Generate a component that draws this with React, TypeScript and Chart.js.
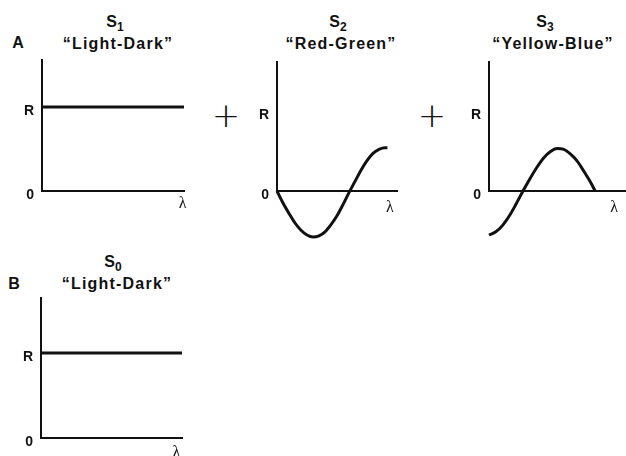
import React, { useEffect, useRef } from "react";
import { Chart, registerables } from "chart.js";

Chart.register(...registerables);

// Wavelength runs over a normalised 0–100 range; responses are in units of R.
const flatWavelengths = [0, 100];
const lightDarkS1 = [1, 1];
const lightDarkS0 = [1, 1];

const redGreenWavelengths = [0, 5, 10, 15, 20, 25, 30, 35, 40, 45, 50, 55, 60, 65, 70, 75, 80, 85, 90, 92];
const redGreenS2 = [0, -0.15, -0.28, -0.4, -0.49, -0.55, -0.575, -0.56, -0.51, -0.42, -0.31, -0.17, -0.02, 0.12, 0.26, 0.38, 0.47, 0.52, 0.54, 0.54];

const yellowBlueWavelengths = [0, 5, 10, 15, 20, 25, 30, 35, 40, 45, 50, 55, 60, 65, 70, 75, 78];
const yellowBlueS3 = [-0.55, -0.51, -0.43, -0.31, -0.16, 0, 0.15, 0.29, 0.41, 0.49, 0.53, 0.52, 0.46, 0.37, 0.24, 0.1, 0];

const yTickValues = [0, 1];
const yTickLabels = ["0", "R"];
const xTickLabel = "λ";

const INK = "#111";
const FONT = "'Liberation Sans', Arial, Helvetica, sans-serif";
const LAMBDA_FONT = "'Liberation Serif', 'Times New Roman', serif";

type PanelSpec = {
  id: string;
  left: number;
  top: number;
  width: number;
  height: number;
  padTop: number;
  padRight: number;
  yAxisWidth: number;
  xAxisHeight: number;
  yMax: number;
  lambdaAt: number;
  lambdaPad: number;
  xs: number[];
  ys: number[];
  lineWidth: number;
};

const panels: PanelSpec[] = [
  { id: "s1", left: 6, top: 54, width: 190, height: 161, padTop: 6, padRight: 12, yAxisWidth: 36, xAxisHeight: 24, yMax: 1.56, lambdaAt: 99, lambdaPad: 3, xs: flatWavelengths, ys: lightDarkS1, lineWidth: 3 },
  { id: "s2", left: 241, top: 56, width: 168, height: 191, padTop: 6, padRight: 12, yAxisWidth: 36, xAxisHeight: 56, yMax: 1.6125, lambdaAt: 94, lambdaPad: 7, xs: redGreenWavelengths, ys: redGreenS2, lineWidth: 3 },
  { id: "s3", left: 453, top: 56, width: 173, height: 191, padTop: 6, padRight: 1, yAxisWidth: 36, xAxisHeight: 56, yMax: 1.6125, lambdaAt: 92, lambdaPad: 7, xs: yellowBlueWavelengths, ys: yellowBlueS3, lineWidth: 3 },
  { id: "s0", left: 5, top: 292, width: 189, height: 168, padTop: 6, padRight: 12, yAxisWidth: 36, xAxisHeight: 22, yMax: 1.647, lambdaAt: 96, lambdaPad: 5, xs: flatWavelengths, ys: lightDarkS0, lineWidth: 3 },
];

function makeChart(canvas: HTMLCanvasElement, p: PanelSpec) {
  return new Chart(canvas, {
    type: "line",
    data: {
      datasets: [
        {
          data: p.xs.map((x, i) => ({ x, y: p.ys[i] })),
          borderColor: INK,
          borderWidth: p.lineWidth,
          pointRadius: 0,
          fill: false,
          cubicInterpolationMode: "monotone",
          clip: false,
        },
      ],
    },
    options: {
      animation: false,
      responsive: false,
      maintainAspectRatio: false,
      events: [],
      layout: { padding: { top: p.padTop, right: p.padRight, left: 0, bottom: 0 } },
      plugins: {
        legend: { display: false },
        tooltip: { enabled: false },
        title: { display: false },
      },
      scales: {
        x: {
          type: "linear",
          min: 0,
          max: 100,
          grid: { display: false, drawTicks: false },
          border: { display: true, color: INK, width: 2 },
          ticks: {
            padding: p.lambdaPad,
            color: INK,
            font: { family: LAMBDA_FONT, size: 16 },
            autoSkip: false,
            maxRotation: 0,
            minRotation: 0,
            callback: () => xTickLabel,
          },
          afterBuildTicks: (s: any) => {
            s.ticks = [{ value: p.lambdaAt }];
          },
          afterFit: (s: any) => {
            s.height = p.xAxisHeight;
            s.paddingLeft = 0;
            s.paddingRight = 0;
          },
        },
        y: {
          type: "linear",
          min: 0,
          max: p.yMax,
          grid: { display: false, drawTicks: false },
          border: { display: true, color: INK, width: 2 },
          ticks: {
            padding: 8,
            labelOffset: 4,
            color: INK,
            font: { family: FONT, size: 14, weight: "bold" },
            autoSkip: false,
            callback: (_v: any, i: number) => yTickLabels[i] ?? "",
          },
          afterBuildTicks: (s: any) => {
            s.ticks = yTickValues.map((value) => ({ value }));
          },
          afterFit: (s: any) => {
            s.width = p.yAxisWidth;
            s.paddingTop = 0;
            s.paddingBottom = 0;
          },
        },
      },
    } as any,
  });
}

const titleStyle: React.CSSProperties = {
  position: "absolute",
  transform: "translate(-50%, -50%)",
  fontFamily: FONT,
  fontWeight: "bold",
  fontSize: 16,
  lineHeight: 1,
  whiteSpace: "nowrap",
  color: INK,
};

function Label({ x, y, children, style }: { x: number; y: number; children: React.ReactNode; style?: React.CSSProperties }) {
  return <div style={{ ...titleStyle, left: x, top: y, ...style }}>{children}</div>;
}

function Signal({ x, y, sub }: { x: number; y: number; sub: string }) {
  return (
    <Label x={x} y={y}>
      S<span style={{ fontSize: 12, position: "relative", top: 4 }}>{sub}</span>
    </Label>
  );
}

function Quoted({ x, y, text }: { x: number; y: number; text: string }) {
  return (
    <Label x={x} y={y} style={{ letterSpacing: 1.2 }}>
      {"\u201C" + text + "\u201D"}
    </Label>
  );
}

function Plus({ x, y }: { x: number; y: number }) {
  return (
    <Label x={x} y={y} style={{ fontFamily: "'DejaVu Sans'", fontWeight: 200, fontSize: 34 }}>
      +
    </Label>
  );
}

export default function App() {
  const refs = useRef<(HTMLCanvasElement | null)[]>([]);

  useEffect(() => {
    const charts = panels.map((p, i) => makeChart(refs.current[i] as HTMLCanvasElement, p));
    return () => charts.forEach((c) => c.destroy());
  }, []);

  return (
    <div
      style={{
        position: "absolute",
        left: 0,
        top: 0,
        width: 626,
        height: 456,
        overflow: "hidden",
        background: "#fff",
      }}
    >
      {panels.map((p, i) => (
        <canvas
          key={p.id}
          ref={(el) => {
            refs.current[i] = el;
          }}
          width={p.width}
          height={p.height}
          style={{ position: "absolute", left: p.left, top: p.top, width: p.width, height: p.height }}
        />
      ))}

      <Label x={18} y={43}>A</Label>
      <Signal x={115} y={22} sub="1" />
      <Quoted x={118} y={44} text="Light-Dark" />

      <Plus x={226} y={115} />
      <Signal x={338} y={22} sub="2" />
      <Quoted x={341} y={44} text="Red-Green" />

      <Plus x={432} y={115} />
      <Signal x={545} y={22} sub="3" />
      <Quoted x={553} y={44} text="Yellow-Blue" />

      <Label x={14} y={284}>B</Label>
      <Signal x={113} y={262} sub="0" />
      <Quoted x={117} y={284} text="Light-Dark" />
    </div>
  );
}
